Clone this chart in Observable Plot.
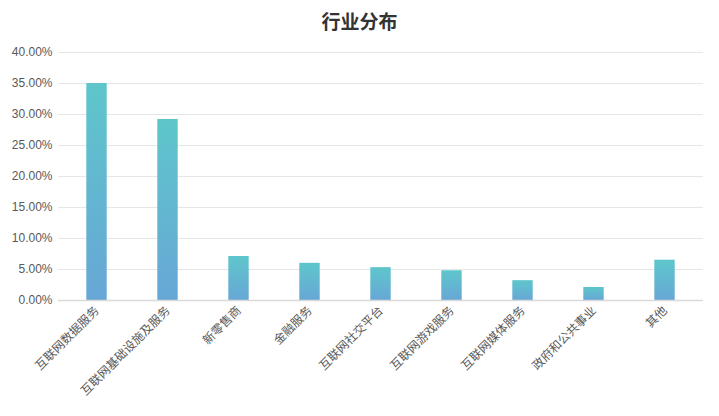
<!DOCTYPE html>
<html>
<head>
<meta charset="utf-8">
<script src="https://cdn.jsdelivr.net/npm/d3@7"></script>
<script src="https://cdn.jsdelivr.net/npm/@observablehq/plot@0.6"></script>
<style>
  html, body { margin: 0; padding: 0; background: #fff; }
  body { width: 719px; height: 416px; overflow: hidden; font-family: "Liberation Sans", "Noto Sans CJK SC", sans-serif; }
  #title { height: 38px; line-height: 42px; text-align: center; font-size: 19px; font-weight: bold; color: #333; font-family: "Noto Sans CJK SC", sans-serif; }
</style>
</head>
<body>
<div id="title">行业分布</div>
<div id="chart"></div>
<script>
const categories = ["互联网数据服务", "互联网基础设施及服务", "新零售商", "金融服务", "互联网社交平台", "互联网游戏服务", "互联网媒体服务", "政府和公共事业", "其他"];
const shares = [0.350, 0.292, 0.071, 0.060, 0.053, 0.048, 0.032, 0.021, 0.065];
const yTicks = [0, 0.05, 0.10, 0.15, 0.20, 0.25, 0.30, 0.35, 0.40];

const data = categories.map((c, i) => ({category: c, value: shares[i]}));

const chart = Plot.plot({
  width: 719,
  height: 378,
  marginTop: 14,
  marginBottom: 116,
  marginLeft: 58,
  marginRight: 16,
  style: {fontFamily: '"Liberation Sans", "Noto Sans CJK SC", sans-serif', fontSize: "12px", color: "#595959", background: "#fff"},
  x: {domain: categories, padding: 0, label: null, tickSize: 0, tickRotate: -45, tickPadding: 8},
  y: {domain: [0, 0.40], ticks: yTicks, tickFormat: d3.format(".2%"), label: null, tickSize: 0, tickPadding: 6},
  marks: [
    Plot.gridY(yTicks, {stroke: "#e6e6e6", strokeOpacity: 1}),
    Plot.barY(data, {x: "category", y: "value", fill: "url(#barGrad)", insetLeft: 25.3, insetRight: 25.3}),
    Plot.ruleY([0], {stroke: "#d9d9d9", strokeWidth: 1.5})
  ]
});

const svg = d3.select(chart);
const defs = svg.insert("defs", ":first-child");
const grad = defs.append("linearGradient").attr("id", "barGrad").attr("x1", 0).attr("y1", 0).attr("x2", 0).attr("y2", 1);
grad.append("stop").attr("offset", "0%").attr("stop-color", "#5ec6cb");
grad.append("stop").attr("offset", "100%").attr("stop-color", "#67a7d6");
svg.selectAll("text").style("fill", "#595959");

document.getElementById("chart").appendChild(chart);
</script>
</body>
</html>
